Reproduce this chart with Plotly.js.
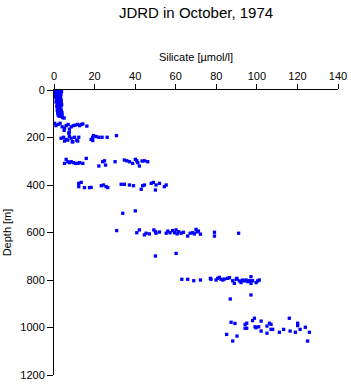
<!DOCTYPE html>
<html>
<head>
<meta charset="utf-8">
<script src="https://cdn.plot.ly/plotly-3.0.1.min.js"></script>
<style>html,body{margin:0;padding:0;background:#fff;}#chart{width:351px;height:384px;}</style>
</head>
<body>
<div id="chart"></div>
<script>
// Silicate [µmol/l] and depth [m], grouped by sampling level
const si_0_120 = [0.2,0.8,1.5,2.2,3.0,3.6, 0.5,1.2,2.8,3.7, 0.3,1.0,2.0,3.2, 0.6,1.5,2.5,3.4, 1.8,3.0, 0.8,2.2,3.3, 1.2,2.6,3.5, 1.0,1.9,3.0,3.6, 1.5,2.8,3.8, 1.4,2.3,3.4, 2.0,3.0, 1.6,2.6,3.6, 1.8,3.0,3.9, 2.2,3.3, 2.0,3.6,4.0, 2.5,3.0, 4.2,5.0];
const dp_0_120 = [0,0,0,0,0,2, 5,5,5,8, 10,10,10,10, 20,20,20,18, 25,25, 30,30,30, 40,40,42, 50,50,50,50, 60,60,62, 70,70,70, 75,75, 85,85,85, 95,95,95, 100,100, 105,105,105, 110,110, 116,118];
const si_150 = [0.3,1.0,2.0,3.0,4.0,5.2,6.0,7.0,7.6,8.5,9.5,10.5,11.7,12.6,13.5,14.2,16.2,5.0,7.5];
const dp_150 = [140,150,145,140,155,160,150,145,165,155,150,148,145,150,145,143,152,170,180];
const si_200 = [3.5,4.7,6.0,7.3,7.6,8.5,9.3,10.1,11.2,12.2, 5.2,6.8,9.0,11.7, 18.3,19.1,19.5,20.8,22.1,23.7,26.2,19.1, 30.8];
const dp_200 = [203,199,208,182,196,203,218,199,211,199, 215,211,218,215, 208,199,192,196,199,199,199,213, 192];
const si_300 = [5.2,6.0,6.8,7.6,8.5,9.6,10.6,11.7,12.6,14.2,15.9, 22.1,24.0,24.9,25.4, 30.1, 34.7,35.9,37.2, 38.8,40.1,40.8,41.3,42.1,43.4,44.6,46.2];
const dp_300 = [309,292,302,306,302,306,309,309,306,309,288, 320,302,298,316, 302, 295,298,302, 309,292,298,306,320,299,298,302];
const si_400 = [12.2,12.2,13.4,15.0,17.5,18.3, 23.3,24.4,25.7,26.5, 33.1,34.7,37.2,39.2, 43.0,43.7,44.6, 47.9,49.0,50.0,50.3,52.0,54.4,55.3];
const dp_400 = [393,407,389,411,411,410, 403,400,407,411, 397,397,400,403, 418,403,400, 393,389,421,400,393,407,400];
const si_500 = [33.9,40.1];
const dp_500 = [519,509];
const si_600 = [30.9, 40.8,42.1,44.6,45.4,47.0, 49.2,50.0,50.3,52.0, 55.3,56.1,57.2,58.5,59.4,60.2,60.7,61.5,62.7,63.8, 65.9,67.1,68.4,69.2,70.0,70.5,71.2,72.2, 79.1,79.1, 91.0];
const dp_600 = [592, 601,589,610,603,606, 589,597,603,598, 603,594,601,592,601,589,606,597,603,599, 615,603,601,606,587,597,594,607, 599,615, 603];
const si_700 = [50.0,60.2];
const dp_700 = [699,688];
const si_800 = [63.0,65.9,68.9,72.2, 77.1,77.4, 79.9,80.7,81.5,82.4,83.2,84.0,85.6,86.5, 88.1,88.9,89.8,90.2,91.4,92.2,93.0,93.8,94.7,95.5,96.3,97.1,97.1,97.9,99.6,100.4,101.2, 86.9,97.1];
const dp_800 = [797,797,803,800, 793,797, 800,793,789,797,800,796,793,790, 803,814,797,793,804,811,800,804,800,807,803,814,786,803,811,804,800, 880,863];
const si_1000 = [87.3,89.2,85.1,88.1,90.2, 94.2,95.0,94.2,95.0, 97.9,98.8,99.1,99.6,100.9, 102.1,102.1, 105.0,105.0, 106.2,107.0,107.0,107.8, 111.1,113.2, 116.0,116.4,119.0,120.1,120.1,121.3,123.9,125.0,125.9];
const dp_1000 = [978,983,1029,1057,1036, 987,982,1003,1003, 971,961,997,1001,997, 973,1015, 994,1024, 982,987,1008,1008, 1020,1008, 961,1015,1020,982,992,1008,999,1057,1020];

const xTicks = [0,20,40,60,80,100,120,140];
const yTicks = [0,200,400,600,800,1000,1200];

const silicate = [].concat(si_0_120, si_150, si_200, si_300, si_400, si_500, si_600, si_700, si_800, si_1000);
const depth = [].concat(dp_0_120, dp_150, dp_200, dp_300, dp_400, dp_500, dp_600, dp_700, dp_800, dp_1000);

const trace = {
  x: silicate, y: depth, type: 'scatter', mode: 'markers',
  marker: {symbol: 'square', size: 3.3, color: '#0000ff', line: {width: 0}},
  hoverinfo: 'none'
};

const font = {family: 'Liberation Sans, Arial, sans-serif', color: '#000'};
const layout = {
  width: 351, height: 384,
  margin: {l: 54, r: 13, t: 90, b: 9, pad: 0},
  paper_bgcolor: '#fff', plot_bgcolor: '#fff',
  showlegend: false,
  title: {text: 'JDRD in October, 1974', font: Object.assign({size: 15}, font),
          x: 0.5, xref: 'paper', xanchor: 'center', y: 0.967, yref: 'container', yanchor: 'middle'},
  xaxis: {
    side: 'top', range: [0, 140], tickvals: xTicks, ticktext: xTicks.map(String),
    ticks: 'outside', ticklen: 5, tickwidth: 1, tickcolor: '#000',
    showline: true, linecolor: '#000', linewidth: 1, showgrid: false, zeroline: false,
    tickfont: Object.assign({size: 11}, font),
    title: {text: 'Silicate [µmol/l]', font: Object.assign({size: 11}, font), standoff: 5}
  },
  yaxis: {
    range: [1200, 0], tickvals: yTicks, ticktext: yTicks.map(String),
    ticks: 'outside', ticklen: 6, tickwidth: 1, tickcolor: '#000',
    showline: true, linecolor: '#000', linewidth: 1, showgrid: false, zeroline: false,
    tickfont: Object.assign({size: 11}, font),
    title: {text: 'Depth [m]', font: Object.assign({size: 11}, font), standoff: 6}
  }
};

Plotly.newPlot('chart', [trace], layout, {staticPlot: true, displayModeBar: false});
</script>
</body>
</html>
